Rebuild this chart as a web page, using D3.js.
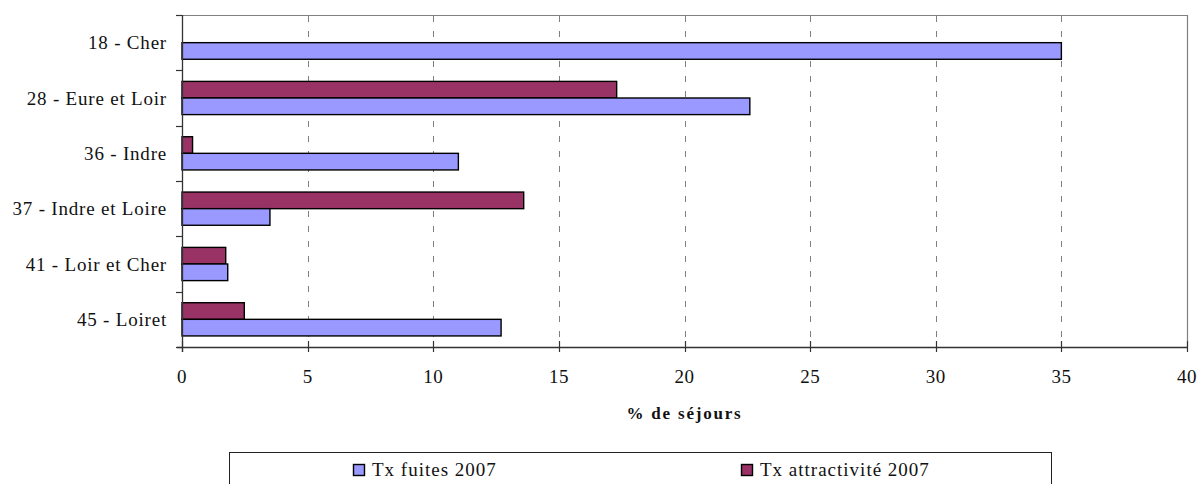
<!DOCTYPE html>
<html>
<head>
<meta charset="utf-8">
<script src="https://cdn.jsdelivr.net/npm/d3@7"></script>
<style>
  html, body { margin: 0; padding: 0; background: #fff; }
  svg text { font-family: 'Liberation Serif', 'DejaVu Serif', serif; }
</style>
</head>
<body>
<svg id="chart" width="1199" height="484"></svg>
<script>
const categories = ["18 - Cher", "28 - Eure et Loir", "36 - Indre", "37 - Indre et Loire", "41 - Loir et Cher", "45 - Loiret"];
const seriesNames = ["Tx attractivité 2007", "Tx fuites 2007"];
const txAttractivite = [null, 17.3, 0.42, 13.6, 1.74, 2.48];
const txFuites = [35.0, 22.6, 11.0, 3.5, 1.82, 12.7];
const xTicks = [0, 5, 10, 15, 20, 25, 30, 35, 40];
const colors = ["#993366", "#9999FF"];
const xTitle = "% de séjours";

const FONT = "Liberation Serif, DejaVu Serif, serif";
const svg = d3.select("#chart");
const L = 182, R = 1187, T = 15, B = 347;

const x = d3.scaleLinear().domain([0, 40]).range([L, R]);
const y = d3.scaleBand().domain(categories).range([T, B]).paddingInner(0.4).paddingOuter(0.2);
const ySub = d3.scaleBand().domain(seriesNames).range([0, y.bandwidth()]);

// gridlines
svg.append("g").selectAll("line").data(xTicks.filter(d => d > 0 && d < 40)).join("line")
  .attr("x1", d => Math.round(x(d)) + 0.5).attr("x2", d => Math.round(x(d)) + 0.5)
  .attr("y1", T + 1).attr("y2", B)
  .attr("stroke", "#7f7f7f").attr("stroke-width", 1).attr("stroke-dasharray", "6,9");

// plot border (top, right)
svg.append("path")
  .attr("d", `M${L},${T + 0.5}H${R + 0.5}V${B}`)
  .attr("fill", "none").attr("stroke", "#808080").attr("stroke-width", 1.2);

// bars
const seriesData = [txAttractivite, txFuites];
const barsG = svg.append("g");
seriesData.forEach((vals, si) => {
  barsG.append("g").selectAll("rect")
    .data(vals.map((v, i) => ({ v, c: categories[i] })).filter(d => d.v != null))
    .join("rect")
    .attr("x", x(0))
    .attr("y", d => y(d.c) + ySub(seriesNames[si]))
    .attr("width", d => x(d.v) - x(0))
    .attr("height", ySub.bandwidth())
    .attr("fill", colors[si])
    .attr("stroke", "#000")
    .attr("stroke-width", 1.4);
});

// y axis
const yAxis = svg.append("g");
yAxis.append("line").attr("x1", L + 0.5).attr("x2", L + 0.5).attr("y1", T).attr("y2", B + 5)
  .attr("stroke", "#333").attr("stroke-width", 1.3);
const yTickPos = d3.range(categories.length + 1).map(i => T + i * y.step());
yAxis.selectAll("line.tk").data(yTickPos).join("line").attr("class", "tk")
  .attr("x1", L - 6).attr("x2", L).attr("y1", d => Math.round(d) + 0.5).attr("y2", d => Math.round(d) + 0.5)
  .attr("stroke", "#333").attr("stroke-width", 1.2);
yAxis.selectAll("text").data(categories).join("text")
  .attr("x", 167).attr("y", d => y(d) + y.bandwidth() / 2)
  .attr("dy", "0.35em").attr("text-anchor", "end")
  .attr("font-family", FONT)
  .attr("font-size", 19).attr("letter-spacing", "0.8px").attr("fill", "#111")
  .text(d => d);

// x axis
const xAxis = svg.append("g");
xAxis.append("line").attr("x1", L - 5).attr("x2", R).attr("y1", B + 0.5).attr("y2", B + 0.5)
  .attr("stroke", "#333").attr("stroke-width", 1.3);
xAxis.selectAll("line.tk").data(xTicks).join("line").attr("class", "tk")
  .attr("x1", d => Math.round(x(d)) + 0.5).attr("x2", d => Math.round(x(d)) + 0.5)
  .attr("y1", B - 6).attr("y2", B + 5)
  .attr("stroke", "#333").attr("stroke-width", 1.2);
xAxis.selectAll("text").data(xTicks).join("text")
  .attr("x", d => x(d)).attr("y", 383)
  .attr("font-family", FONT)
  .attr("text-anchor", "middle").attr("font-size", 19).attr("letter-spacing", "0.5px").attr("fill", "#111")
  .text(d => d);

svg.append("text").attr("x", (L + R) / 2).attr("y", 419)
  .attr("font-family", FONT)
  .attr("text-anchor", "middle").attr("font-size", 17).attr("font-weight", "bold")
  .attr("letter-spacing", "1.8px").attr("fill", "#111").text(xTitle);

// legend
const lg = svg.append("g");
lg.append("rect").attr("x", 229.5).attr("y", 452.5).attr("width", 822).attr("height", 40)
  .attr("fill", "#fff").attr("stroke", "#222").attr("stroke-width", 1);
const legendItems = [
  { name: seriesNames[1], color: colors[1], mx: 353 },
  { name: seriesNames[0], color: colors[0], mx: 741 }
];
legendItems.forEach(it => {
  lg.append("rect").attr("x", it.mx + 0.5).attr("y", 464.5).attr("width", 11).attr("height", 11)
    .attr("fill", it.color).attr("stroke", "#000").attr("stroke-width", 1.4);
  lg.append("text").attr("x", it.mx + 19).attr("y", 476)
    .attr("font-family", FONT)
    .attr("font-size", 19).attr("letter-spacing", "1px").attr("fill", "#111").text(it.name);
});
</script>
</body>
</html>
